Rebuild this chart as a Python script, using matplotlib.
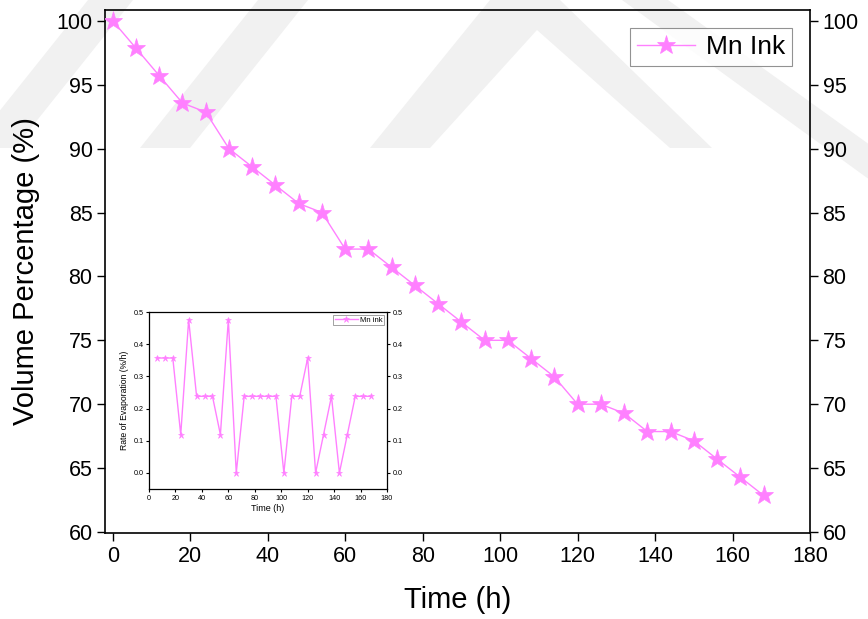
import matplotlib.pyplot as plt
from matplotlib.patches import Polygon

plt.rcParams['font.family'] = ['Liberation Sans', 'DejaVu Sans']

# volume left in the vial, sampled every 6 h
time_h = [0, 6, 12, 18, 24, 30, 36, 42, 48, 54, 60, 66, 72, 78, 84, 90, 96,
          102, 108, 114, 120, 126, 132, 138, 144, 150, 156, 162, 168]
volume_pct = [100.0, 97.86, 95.71, 93.57, 92.86, 90.0, 88.57, 87.14, 85.71,
              85.0, 82.14, 82.14, 80.71, 79.29, 77.86, 76.43, 75.0, 75.0,
              73.57, 72.14, 70.0, 70.0, 69.29, 67.86, 67.86, 67.14, 65.71,
              64.29, 62.86]

# evaporation rate between samples
rate_time = time_h[1:]
rate_pct_h = [0.357, 0.357, 0.357, 0.119, 0.476, 0.238, 0.238, 0.238, 0.119,
              0.476, 0.0, 0.238, 0.238, 0.238, 0.238, 0.238, 0.0, 0.238,
              0.238, 0.357, 0.0, 0.119, 0.238, 0.0, 0.119, 0.238, 0.238,
              0.238]

pink = '#FF80FF'
W, H = 868, 619

fig = plt.figure(figsize=(W / 100, H / 100), dpi=100)

# faint background logo stripes (pixel coords, y measured from the top)
bands = [
    [(-30, 148), (15, 148), (133, 0), (88, 0)],
    [(140, 148), (190, 148), (308, 0), (258, 0)],
    [(370, 148), (430, 148), (537, 30), (670, 148), (712, 148), (560, 0), (490, 0)],
    [(622, 0), (668, 0), (870, 145), (870, 180)],
]
for pts in bands:
    fig.patches.append(Polygon([(x / W, 1 - y / H) for x, y in pts], closed=True,
                               transform=fig.transFigure, facecolor='#f1f1f1',
                               edgecolor='none', zorder=-5))

ax = fig.add_axes([105 / W, 1 - 533 / H, (810 - 105) / W, (533 - 10) / H])
ax.set_facecolor('none')
ax.plot(time_h, volume_pct, color=pink, lw=1.0, marker='*', markersize=14,
        markeredgewidth=0.5, label='Mn Ink', zorder=3)
ax.set_xlim(-2, 180)
ax.set_ylim(59.92, 100.85)
ax.set_xticks(range(0, 181, 20))
ax.set_yticks(range(60, 101, 5))
ax.tick_params(direction='out', length=6, width=1, labelsize=15.5,
               right=True, labelright=True, top=False, pad=3)
for s in ax.spines.values():
    s.set_linewidth(1.2)
ax.set_xlabel('Time (h)', fontsize=21, labelpad=14)
ax.set_ylabel('Volume Percentage (%)', fontsize=21, labelpad=12)
leg = ax.legend(loc='upper right', fontsize=19, frameon=True, fancybox=False,
                borderaxespad=0.7, handlelength=2.2, handletextpad=0.4,
                borderpad=0.25)
leg.get_frame().set_edgecolor('#777777')
leg.get_frame().set_linewidth(0.8)

# inset: rate of evaporation
ins = fig.add_axes([149 / W, 1 - 489 / H, (387 - 149) / W, (489 - 312) / H])
ins.plot(rate_time, rate_pct_h, color=pink, lw=1.0, marker='*', markersize=5,
         markeredgewidth=0.4, label='Mn ink')
ins.set_xlim(0, 180)
ins.set_ylim(-0.05, 0.5)
ins.set_xticks(range(0, 181, 20))
ins.set_yticks([0.0, 0.1, 0.2, 0.3, 0.4, 0.5])
ins.yaxis.set_major_formatter(plt.FormatStrFormatter('%.1f'))
ins.tick_params(direction='out', length=2.5, width=0.8, labelsize=5.2,
                right=True, labelright=True, top=False, pad=1.5)
for s in ins.spines.values():
    s.set_linewidth(0.9)
ins.set_xlabel('Time (h)', fontsize=6.5, labelpad=2)
ins.set_ylabel('Rate of Evaporation (%/h)', fontsize=6.2, labelpad=3)
ileg = ins.legend(loc='upper right', fontsize=5.5, frameon=True, fancybox=False,
                  borderaxespad=0.4, handlelength=3, handletextpad=0.3,
                  borderpad=0.2)
ileg.get_frame().set_edgecolor('#777777')
ileg.get_frame().set_linewidth(0.6)

fig.savefig('out.png', dpi=100)
